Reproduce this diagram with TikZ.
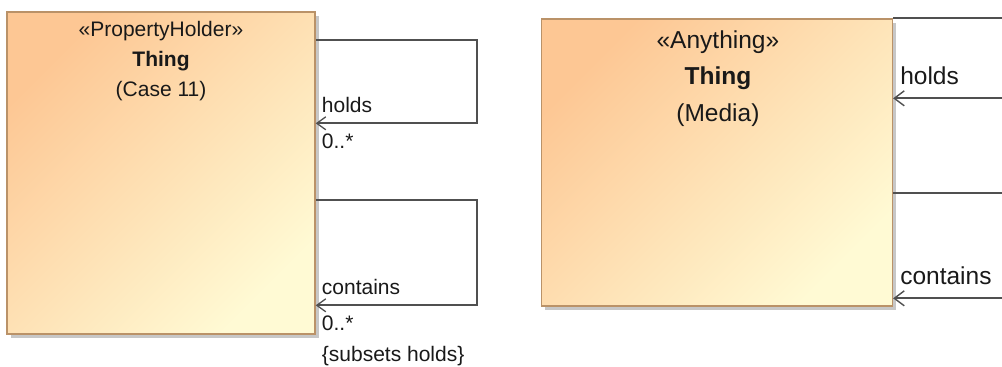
\documentclass[tikz,border=0pt]{standalone}
\usepackage{fontspec}
\setmainfont{Liberation Sans}
\usepackage{xcolor}
\usepackage{tikz}
\usetikzlibrary{arrows.meta, positioning, shadows}

\definecolor{classtop}{RGB}{253,199,148}
\definecolor{classbottom}{RGB}{255,250,212}
\definecolor{classborder}{RGB}{186,146,104}
\definecolor{assocline}{RGB}{80,80,80}
\definecolor{labeltext}{RGB}{25,25,25}

\begin{document}
\begin{tikzpicture}[x=1pt, y=-1pt]
	% Styles
	\tikzstyle{classbox} = [draw=classborder, line width=1.4pt, rectangle, inner sep=0pt, top color=classtop, bottom color=classbottom, shading angle=45, drop shadow={shadow xshift=4pt, shadow yshift=-4pt, fill=black!22, opacity=1}]
	\tikzstyle{smalltext} = [text=labeltext, inner sep=0pt, font=\fontsize{21}{25}\selectfont]
	\tikzstyle{bigtext} = [text=labeltext, inner sep=0pt, font=\fontsize{24.5}{29}\selectfont]
	\tikzstyle{assoc} = [draw=assocline, line width=1.7pt, -{Straight Barb[length=9pt, width=13pt, line width=1.3pt]}]
	\tikzstyle{assocbig} = [draw=assocline, line width=1.8pt, -{Straight Barb[length=10pt, width=15pt, line width=1.4pt]}]

	\path[use as bounding box, clip] (0,0) rectangle (1002,367);

	% Nodes
	\node (thingA) [classbox, minimum width=308pt, minimum height=322pt] at (161,173) {};
	\node (stereoA) [smalltext, anchor=base] at ([yshift=-25pt]thingA.north) {«PropertyHolder»};
	\node (nameA) [smalltext, anchor=base, font=\fontsize{21}{25}\selectfont\bfseries] at ([yshift=-55pt]thingA.north) {Thing};
	\node (caseA) [smalltext, anchor=base] at ([yshift=-85pt]thingA.north) {(Case 11)};

	\node (thingB) [classbox, minimum width=351pt, minimum height=287pt, anchor=north west] at ([xshift=225pt, yshift=-7pt]thingA.north east) {};
	\node (stereoB) [bigtext, anchor=base] at ([xshift=1pt, yshift=-30.5pt]thingB.north) {«Anything»};
	\node (nameB) [bigtext, anchor=base, font=\fontsize{24.5}{29}\selectfont\bfseries] at ([xshift=1pt, yshift=-66pt]thingB.north) {Thing};
	\node (mediaB) [bigtext, anchor=base] at ([xshift=1pt, yshift=-103pt]thingB.north) {(Media)};

	% Loop corners
	\coordinate (cornerA1) at (477,41);
	\coordinate (cornerA2) at (477,201);
	\coordinate (cornerB1) at (1020,19);
	\coordinate (cornerB2) at (1020,194);

	% Connections
	\draw [assoc] ([yshift=-29pt]thingA.north east) -| (cornerA1) |- ([yshift=-112pt]thingA.north east) coordinate (holdsEndA);
	\draw [assoc] ([yshift=-189pt]thingA.north east) -| (cornerA2) |- ([yshift=-294pt]thingA.north east) coordinate (containsEndA);
	\draw [assocbig] (thingB.north east) -| (cornerB1) |- ([yshift=-80pt]thingB.north east) coordinate (holdsEndB);
	\draw [assocbig] ([yshift=-175pt]thingB.north east) -| (cornerB2) |- ([yshift=-280pt]thingB.north east) coordinate (containsEndB);

	% Role labels
	\node (holdsA) [smalltext, anchor=base west] at ([xshift=6pt, yshift=11pt]holdsEndA) {holds};
	\node (multA1) [smalltext, anchor=base west] at ([xshift=6pt, yshift=-25pt]holdsEndA) {0..*};
	\node (containsA) [smalltext, anchor=base west] at ([xshift=6pt, yshift=11pt]containsEndA) {contains};
	\node (multA2) [smalltext, anchor=base west] at ([xshift=6pt, yshift=-25pt]containsEndA) {0..*};
	\node (subsetsA) [smalltext, anchor=base west] at ([xshift=6pt, yshift=-56pt]containsEndA) {\{subsets holds\}};
	\node (holdsB) [bigtext, anchor=base west] at ([xshift=7pt, yshift=14pt]holdsEndB) {holds};
	\node (containsB) [bigtext, anchor=base west] at ([xshift=7pt, yshift=14pt]containsEndB) {contains};

\end{tikzpicture}
\end{document}
